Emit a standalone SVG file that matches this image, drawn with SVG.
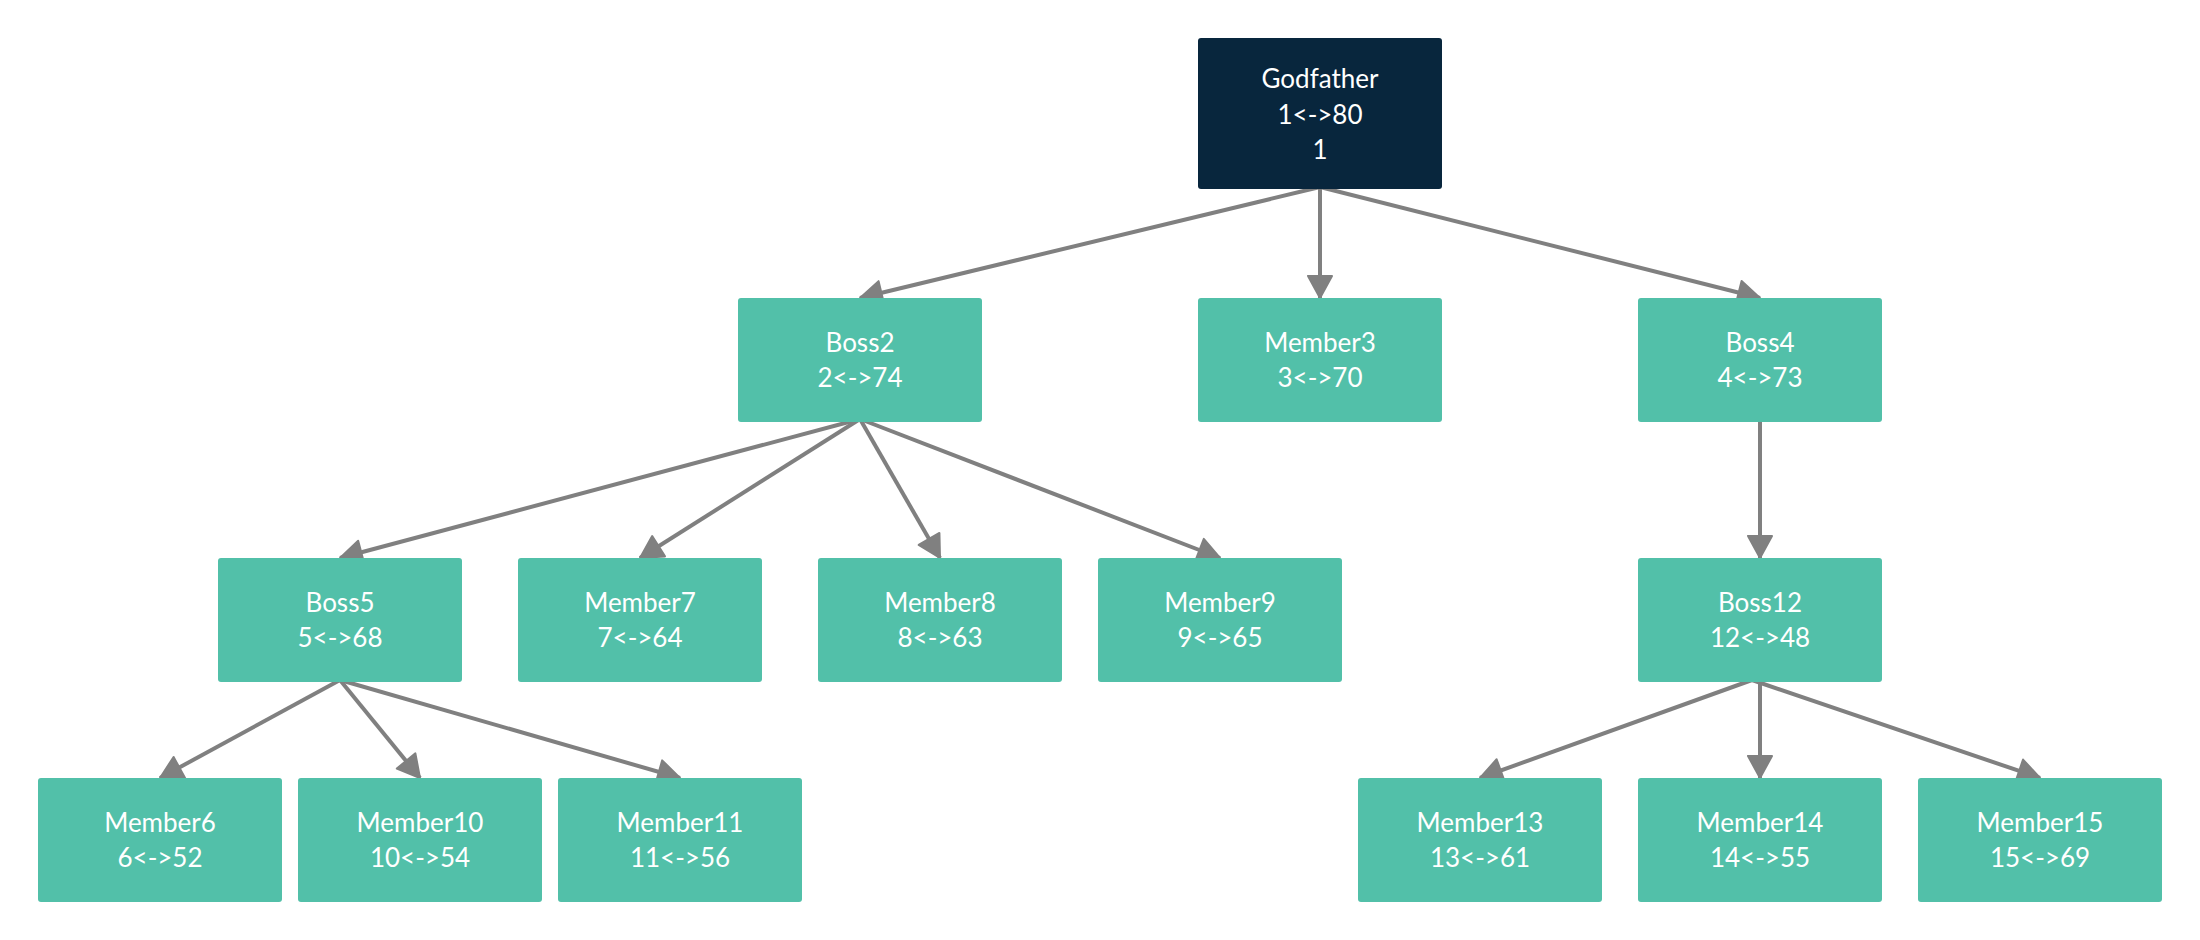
<svg xmlns="http://www.w3.org/2000/svg" width="2200" height="940" viewBox="0 0 2200 940">
<style>
.box{fill:#52c0a9}
.dark{fill:#08263d}
text{font-family:Lato,"Liberation Sans",sans-serif;font-size:26px;fill:#ffffff;text-anchor:middle}
.edge{stroke:#808080;stroke-width:4;fill:none}
</style>
<defs>
<marker id="arr" markerUnits="userSpaceOnUse" markerWidth="30" markerHeight="30" viewBox="0 0 30 30" refX="24" refY="14" orient="auto">
<path d="M2,2 L24,14 L2,26 z" fill="#808080" stroke="#808080" stroke-width="2" stroke-linejoin="round"/>
</marker>
</defs>
<rect width="2200" height="940" fill="#ffffff"/>
<g id="connectors">
<line class="edge" x1="1320" y1="187" x2="860" y2="298" marker-end="url(#arr)"/>
<line class="edge" x1="1320" y1="187" x2="1320" y2="298" marker-end="url(#arr)"/>
<line class="edge" x1="1320" y1="187" x2="1760" y2="298" marker-end="url(#arr)"/>
<line class="edge" x1="860" y1="419" x2="340" y2="558" marker-end="url(#arr)"/>
<line class="edge" x1="860" y1="419" x2="640" y2="558" marker-end="url(#arr)"/>
<line class="edge" x1="860" y1="419" x2="940" y2="558" marker-end="url(#arr)"/>
<line class="edge" x1="860" y1="419" x2="1220" y2="558" marker-end="url(#arr)"/>
<line class="edge" x1="340" y1="680" x2="160" y2="778" marker-end="url(#arr)"/>
<line class="edge" x1="340" y1="680" x2="420" y2="778" marker-end="url(#arr)"/>
<line class="edge" x1="340" y1="680" x2="680" y2="778" marker-end="url(#arr)"/>
<line class="edge" x1="1760" y1="420" x2="1760" y2="558" marker-end="url(#arr)"/>
<line class="edge" x1="1752" y1="680" x2="1480" y2="778" marker-end="url(#arr)"/>
<line class="edge" x1="1760" y1="680" x2="1760" y2="778" marker-end="url(#arr)"/>
<line class="edge" x1="1752" y1="680" x2="2040" y2="778" marker-end="url(#arr)"/>
</g>
<g id="godfather"><rect class="dark" x="1198" y="38" width="244" height="151" rx="3"/><text x="1320" y="88">Godfather</text><text x="1320" y="124">1&lt;-&gt;80</text><text x="1320" y="159">1</text></g>
<g id="boss2"><rect class="box" x="738" y="298" width="244" height="124" rx="3"/><text x="860" y="352">Boss2</text><text x="860" y="387">2&lt;-&gt;74</text></g>
<g id="member3"><rect class="box" x="1198" y="298" width="244" height="124" rx="3"/><text x="1320" y="352">Member3</text><text x="1320" y="387">3&lt;-&gt;70</text></g>
<g id="boss4"><rect class="box" x="1638" y="298" width="244" height="124" rx="3"/><text x="1760" y="352">Boss4</text><text x="1760" y="387">4&lt;-&gt;73</text></g>
<g id="boss5"><rect class="box" x="218" y="558" width="244" height="124" rx="3"/><text x="340" y="612">Boss5</text><text x="340" y="647">5&lt;-&gt;68</text></g>
<g id="member7"><rect class="box" x="518" y="558" width="244" height="124" rx="3"/><text x="640" y="612">Member7</text><text x="640" y="647">7&lt;-&gt;64</text></g>
<g id="member8"><rect class="box" x="818" y="558" width="244" height="124" rx="3"/><text x="940" y="612">Member8</text><text x="940" y="647">8&lt;-&gt;63</text></g>
<g id="member9"><rect class="box" x="1098" y="558" width="244" height="124" rx="3"/><text x="1220" y="612">Member9</text><text x="1220" y="647">9&lt;-&gt;65</text></g>
<g id="boss12"><rect class="box" x="1638" y="558" width="244" height="124" rx="3"/><text x="1760" y="612">Boss12</text><text x="1760" y="647">12&lt;-&gt;48</text></g>
<g id="member6"><rect class="box" x="38" y="778" width="244" height="124" rx="3"/><text x="160" y="832">Member6</text><text x="160" y="867">6&lt;-&gt;52</text></g>
<g id="member10"><rect class="box" x="298" y="778" width="244" height="124" rx="3"/><text x="420" y="832">Member10</text><text x="420" y="867">10&lt;-&gt;54</text></g>
<g id="member11"><rect class="box" x="558" y="778" width="244" height="124" rx="3"/><text x="680" y="832">Member11</text><text x="680" y="867">11&lt;-&gt;56</text></g>
<g id="member13"><rect class="box" x="1358" y="778" width="244" height="124" rx="3"/><text x="1480" y="832">Member13</text><text x="1480" y="867">13&lt;-&gt;61</text></g>
<g id="member14"><rect class="box" x="1638" y="778" width="244" height="124" rx="3"/><text x="1760" y="832">Member14</text><text x="1760" y="867">14&lt;-&gt;55</text></g>
<g id="member15"><rect class="box" x="1918" y="778" width="244" height="124" rx="3"/><text x="2040" y="832">Member15</text><text x="2040" y="867">15&lt;-&gt;69</text></g>
</svg>
